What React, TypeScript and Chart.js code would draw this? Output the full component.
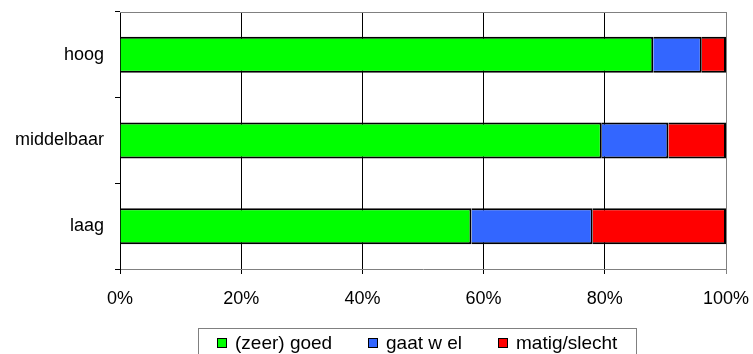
import React, { useEffect, useRef } from "react";
import { Chart, registerables } from "chart.js";

Chart.register(...registerables);

const categories = ["hoog", "middelbaar", "laag"];
const seriesNames = ["(zeer) goed", "gaat w el", "matig/slecht"];
const goed = [88, 79.5, 58];
const gaatWel = [8, 11, 20];
const matig = [4, 9.5, 22];
const seriesColors = ["#00FF00", "#3366FF", "#FF0000"];
const xTicks = [0, 20, 40, 60, 80, 100];

const FONT = 'Arial, "Liberation Sans", sans-serif';

const customPlugin = {
  id: "customDecor",
  afterDraw(chart: any) {
    const ctx = chart.ctx;
    const { left, right, top } = chart.chartArea;
    ctx.save();
    // top border
    ctx.strokeStyle = "#808080";
    ctx.lineWidth = 1;
    ctx.beginPath();
    ctx.moveTo(left, top + 0.5);
    ctx.lineTo(right, top + 0.5);
    ctx.stroke();

    // legend
    ctx.font = "19px " + FONT;
    const items = chart.data.datasets.map((d: any) => ({
      label: d.label,
      color: d.backgroundColor,
      w: ctx.measureText(d.label).width,
    }));
    const box = 10;
    const gapBT = 8;
    const gapItems = 36;
    const total =
      items.reduce((s: number, it: any) => s + box + gapBT + it.w, 0) +
      gapItems * (items.length - 1);
    const cx = (left + right) / 2 - 6;
    const frameL = Math.round(cx - total / 2 - 19) + 0.5;
    const frameR = Math.round(cx + total / 2 + 19) + 0.5;
    const frameT = 328.5;
    ctx.strokeStyle = "#808080";
    ctx.strokeRect(frameL, frameT, frameR - frameL, 40);
    let x = cx - total / 2;
    const boxY = 338;
    const baseY = 349;
    ctx.textBaseline = "alphabetic";
    ctx.textAlign = "left";
    for (const it of items) {
      const bx = Math.round(x);
      ctx.fillStyle = it.color;
      ctx.fillRect(bx, boxY, box, box);
      ctx.strokeStyle = "#000";
      ctx.strokeRect(bx + 0.5, boxY + 0.5, box - 1, box - 1);
      ctx.fillStyle = "#000";
      ctx.fillText(it.label, bx + box + gapBT, baseY);
      x += box + gapBT + it.w + gapItems;
    }
    ctx.restore();
  },
};

const zeroPad = (scale: any) => {
  scale.paddingTop = 0;
  scale.paddingBottom = 0;
  scale.paddingLeft = 0;
  scale.paddingRight = 0;
};

export default function App() {
  const ref = useRef<HTMLCanvasElement | null>(null);
  useEffect(() => {
    if (!ref.current) return;
    const values = [goed, gaatWel, matig];
    const chart = new Chart(ref.current, {
      type: "bar",
      data: {
        labels: categories,
        datasets: seriesNames.map((name, i) => ({
          label: name,
          data: values[i],
          backgroundColor: seriesColors[i],
          borderColor: "#000",
          borderWidth: 2,
          borderSkipped: "start",
          inflateAmount: 0,
          barThickness: 36,
        })),
      },
      options: {
        indexAxis: "y",
        animation: false,
        responsive: false,
        devicePixelRatio: 1,
        layout: { autoPadding: false, padding: { left: 0, top: 12, right: 27, bottom: 0 } },
        plugins: {
          legend: { display: false },
          tooltip: { enabled: false },
        },
        scales: {
          x: {
            stacked: true,
            min: 0,
            max: 100,
            afterBuildTicks: (scale: any) => {
              scale.ticks = xTicks.map((v) => ({ value: v }));
            },
            afterFit: (scale: any) => {
              scale.height = 85;
              zeroPad(scale);
            },
            ticks: {
              color: "#000",
              font: { family: FONT, size: 18 },
              padding: 14,
              maxRotation: 0,
              callback: (v: any) => v + "%",
            },
            grid: {
              color: (c: any) => (c.tick && c.tick.value === 100 ? "#808080" : "#000"),
              tickColor: (c: any) => (c.tick && c.tick.value === 100 ? "#808080" : "#000"),
              tickLength: 5,
              lineWidth: 1,
            },
            border: { color: "#808080", width: 1 },
          },
          y: {
            stacked: true,
            afterFit: (scale: any) => {
              scale.width = 120;
              zeroPad(scale);
            },
            ticks: {
              color: "#000",
              font: { family: FONT, size: 18 },
              padding: 11,
            },
            grid: {
              offset: true,
              drawOnChartArea: false,
              tickLength: 5,
              tickColor: "#000",
              color: "#000",
            },
            border: { color: "#000", width: 1 },
          },
        },
      },
      plugins: [customPlugin],
    } as any);
    return () => chart.destroy();
  }, []);
  return (
    <div style={{ position: "absolute", left: 0, top: 0, width: 753, height: 354, background: "#fff" }}>
      <canvas ref={ref} width={753} height={354} />
    </div>
  );
}
